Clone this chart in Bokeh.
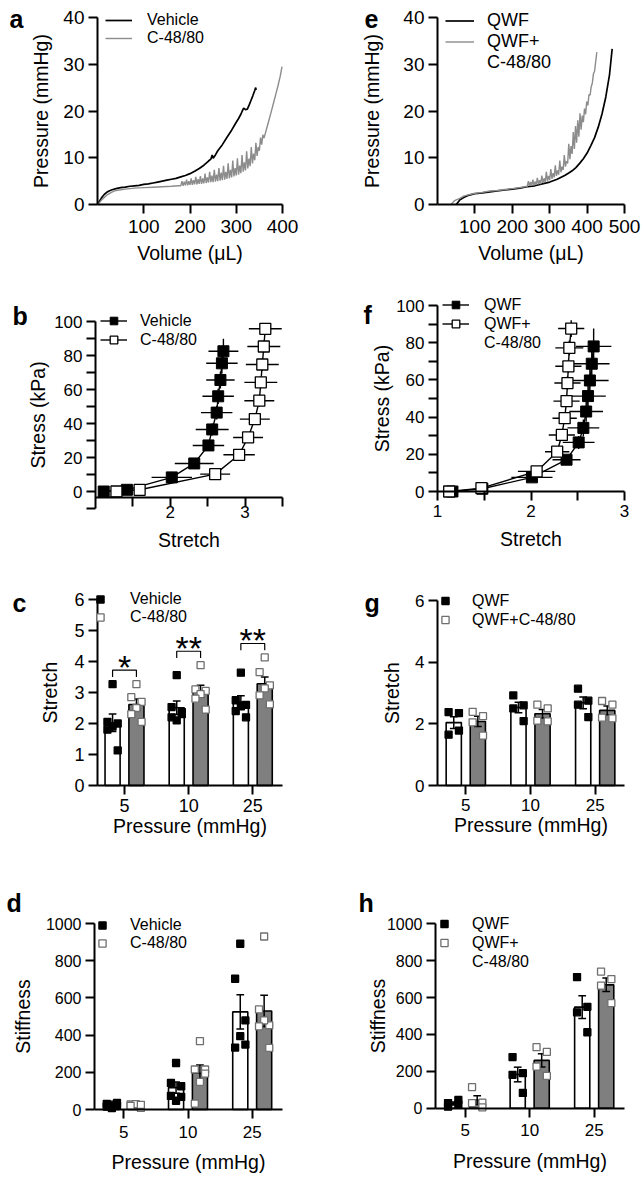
import numpy as np
from bokeh.plotting import figure
from bokeh.models import Range1d, FixedTicker, Legend, LegendItem, Label
from bokeh.layouts import column, row
from bokeh.embed import file_html
from bokeh.resources import INLINE
from bokeh.core.properties import value

FONT = "Liberation Sans"
GREY_LINE = "#8c8c8c"
GREY_BAR = "#7f7f7f"
OPEN_EDGE = "#6f6f6f"

# ---------------- data ----------------
# a: pressure-volume traces
A_VEH_VOL = [0, 5, 10, 15, 20, 25, 30, 40, 50, 60, 70, 80, 90, 100, 110, 120, 130, 140, 150, 160,
             170, 180, 190, 200, 210, 220, 230, 240, 245, 248, 250, 255, 260, 270, 280, 290, 300,
             305, 310, 313, 316, 320, 324, 328, 332, 336, 340, 342, 343]
A_VEH_P = [0, 0.8, 1.6, 2.2, 2.6, 2.9, 3.1, 3.4, 3.6, 3.7, 3.9, 4.0, 4.1, 4.3, 4.4, 4.6, 4.8, 5.0, 5.2, 5.4,
           5.6, 5.9, 6.2, 6.6, 7.1, 7.7, 8.4, 9.3, 9.7, 10.6, 9.9, 10.6, 11.5, 12.8, 14.4, 15.9, 17.6,
           18.4, 19.3, 20.0, 20.6, 20.3, 20.4, 21.3, 22.3, 23.3, 24.4, 25.0, 24.5]
A_C48_VOL = [0, 5, 10, 20, 30, 40, 60, 80, 100, 120, 140, 160, 175,
             180, 182.5, 185, 187.5, 190, 192.5, 195, 197.5, 200, 202.5, 205, 207.5, 210, 212.5, 215,
             217.5, 220, 222.5, 225, 227.5, 230, 232.5, 235, 237.5, 240, 242.5, 245, 247.5, 250, 252.5,
             255, 257.5, 260, 262.5, 265, 267.5, 270, 272.5, 275, 277.5, 280, 282.5, 285, 287.5, 290,
             292.5, 295, 297.5, 300, 302.5, 305, 307.5, 310, 312.5, 315, 317.5, 320, 322.5, 325, 327.5,
             330, 332.5, 335, 337.5, 340, 342.5, 345, 347.5, 350, 352.5, 355, 357.5,
             360, 365, 370, 375, 380, 385, 390, 395, 399]
A_C48_P = [0, 0.5, 1.1, 2.0, 2.6, 3.0, 3.3, 3.5, 3.6, 3.7, 3.8, 3.9, 4.0,
           4.0, 5.0, 4.0, 4.9, 4.1, 5.3, 4.1, 5.0, 4.2, 5.6, 4.2, 5.2, 4.3, 5.9, 4.3,
           5.4, 4.4, 6.1, 4.4, 5.6, 4.5, 6.6, 4.6, 5.8, 4.7, 7.0, 4.8, 6.2, 4.8, 7.4,
           4.9, 6.4, 5.0, 7.8, 5.1, 6.8, 5.2, 8.3, 5.3, 7.0, 5.5, 8.8, 5.6, 7.4, 5.8,
           9.4, 6.0, 7.8, 6.2, 9.9, 6.4, 8.3, 6.7, 10.6, 7.0, 9.0, 7.3, 11.4, 7.7, 9.8,
           8.2, 12.3, 8.8, 10.9, 9.5, 13.2, 10.4, 12.3, 11.5, 14.3, 12.8, 14.9,
           14.2, 16.0, 17.8, 19.6, 21.5, 23.4, 25.3, 27.4, 29.5]

# e: pressure-volume traces
E_QWF_VOL = [50, 55, 60, 70, 80, 90, 100, 120, 140, 160, 180, 200, 220, 240, 260, 280, 300, 320, 340,
             350, 360, 370, 380, 390, 400, 410, 420, 430, 440, 450, 460, 467]
E_QWF_P = [0, 0.5, 1.0, 1.5, 1.9, 2.1, 2.3, 2.5, 2.7, 2.9, 3.1, 3.3, 3.5, 3.8, 4.0, 4.4, 4.8, 5.4, 6.2,
           6.7, 7.2, 7.9, 8.8, 9.8, 11.0, 12.6, 14.3, 16.6, 19.4, 23.0, 27.8, 33.3]
E_QWFC_VOL = [35, 40, 45, 50, 60, 70, 80, 100, 120, 140, 160, 180, 200, 220,
              240, 243, 246, 249, 252, 255, 258, 261, 264, 267, 270, 273, 276, 279, 282, 285, 288,
              291, 294, 297, 300, 303, 306, 309, 312, 315, 318, 321, 324, 327, 330, 333, 336, 339,
              342, 345, 348, 351, 354, 357, 360, 363, 366, 369, 372, 375, 378, 381, 384, 387, 390,
              393, 396, 399, 402, 405, 408, 411, 414, 417, 420, 423, 426]
E_QWFC_P = [0, 0.3, 0.8, 1.0, 1.3, 1.8, 2.0, 2.4, 2.6, 2.9, 3.0, 3.2, 3.4, 3.6,
            3.9, 5.0, 4.0, 4.8, 4.0, 5.3, 4.1, 4.9, 4.2, 5.7, 4.3, 5.2, 4.4, 6.2, 4.6, 5.6, 4.8,
            7.0, 5.0, 6.1, 5.2, 7.6, 5.5, 6.7, 5.8, 8.4, 6.1, 7.3, 6.4, 9.4, 6.9, 8.1, 7.4, 10.6,
            8.1, 9.3, 8.8, 13.0, 9.7, 12.5, 10.8, 15.5, 11.9, 16.8, 13.2, 18.0, 14.5, 19.5, 16.0, 19.0, 17.6,
            20.5, 19.3, 22.0, 21.2, 23.5, 23.4, 25.2, 26.0, 28.0, 28.5, 30.6, 32.6]

# b: stress-stretch (mean +/- SEM)
B_VEH_STRETCH = [1.11, 1.42, 2.02, 2.32, 2.51, 2.56, 2.62, 2.64, 2.67, 2.69, 2.71]
B_VEH_STRETCH_SEM = [0.02, 0.05, 0.27, 0.26, 0.21, 0.22, 0.21, 0.21, 0.19, 0.21, 0.2]
B_VEH_STRESS = [0.0, 1.0, 8.3, 16.5, 27.1, 36.5, 46.4, 56.0, 65.6, 75.4, 82.5]
B_VEH_STRESS_SEM = [0.1, 0.3, 1.5, 2.5, 3.0, 3.5, 4.0, 4.5, 5.0, 6.0, 7.3]
B_C48_STRETCH = [1.28, 1.59, 2.6, 2.92, 3.04, 3.13, 3.19, 3.21, 3.23, 3.25, 3.27]
B_C48_STRETCH_SEM = [0.02, 0.05, 0.2, 0.21, 0.2, 0.2, 0.2, 0.22, 0.22, 0.22, 0.22]
B_C48_STRESS = [0.0, 1.0, 10.2, 21.6, 31.8, 42.6, 53.4, 64.2, 74.7, 85.3, 95.7]
B_C48_STRESS_SEM = [0.1, 0.3, 1.5, 2.5, 3.0, 3.5, 3.5, 3.5, 3.5, 3.5, 3.3]

# f: stress-stretch (mean +/- SEM)
F_QWF_STRETCH = [1.16, 1.48, 2.01, 2.38, 2.51, 2.56, 2.59, 2.61, 2.63, 2.65, 2.67]
F_QWF_STRETCH_SEM = [0.02, 0.05, 0.22, 0.15, 0.17, 0.17, 0.18, 0.19, 0.2, 0.19, 0.19]
F_QWF_STRESS = [0.0, 1.5, 7.6, 17.1, 26.4, 34.2, 43.0, 51.3, 59.7, 68.7, 78.0]
F_QWF_STRESS_SEM = [0.1, 0.3, 1.5, 2.5, 3.5, 4.5, 5.5, 6.5, 7.5, 8.5, 9.6]
F_QWFC_STRETCH = [1.125, 1.47, 2.06, 2.28, 2.33, 2.36, 2.38, 2.39, 2.40, 2.41, 2.43]
F_QWFC_STRETCH_SEM = [0.02, 0.05, 0.2, 0.13, 0.14, 0.13, 0.14, 0.14, 0.14, 0.15, 0.14]
F_QWFC_STRESS = [0.0, 1.8, 10.8, 21.4, 30.4, 39.4, 48.6, 58.3, 67.3, 77.2, 87.6]
F_QWFC_STRESS_SEM = [0.1, 0.3, 1.5, 2.0, 2.5, 2.5, 3.0, 3.5, 3.5, 4.0, 4.5]

# c, g, d, h: individual animals at each pressure
PRESSURES = ["5", "10", "25"]
C_VEH = [[3.27, 2.05, 2.0, 1.9, 1.8, 1.13], [3.56, 2.53, 2.37, 2.1, 2.2, 2.3], [3.64, 2.75, 2.6, 2.55, 2.4, 2.2]]
C_C48 = [[3.27, 2.85, 2.7, 2.5, 2.3, 2.05], [3.88, 3.1, 3.05, 2.95, 2.8, 2.45], [4.13, 3.66, 3.23, 3.13, 2.91, 2.62]]
C_SIG = ["*", "**", "**"]
G_QWF = [[2.38, 2.35, 1.65, 1.78], [2.92, 2.6, 2.5, 2.09], [3.14, 2.75, 2.62, 2.22]]
G_QWFC = [[2.39, 2.25, 2.05, 1.62], [2.62, 2.5, 2.1, 2.08], [2.74, 2.62, 2.2, 2.18]]
D_VEH = [[8, 15, 20, 26, 30, 35], [250, 143, 125, 47, 73, 68], [891, 703, 479, 394, 333, 349]]
D_C48 = [[23, 27, 9, 29, 20, 25], [368, 215, 215, 148, 32, 193], [930, 538, 453, 479, 447, 331]]
H_QWF = [[8, 20, 28, 45], [277, 190, 181, 83], [711, 550, 520, 412]]
H_QWFC = [[114, 30, 28, 5], [331, 305, 226, 175], [741, 700, 665, 570]]


# ---------------- helpers ----------------
class Panel:
    """Figure whose frame is the whole canvas; axes are drawn at fixed data locations."""

    def __init__(self, W, H, xspec, yspec):
        xa, pxa, xb, pxb = xspec
        ya, pya, yb, pyb = yspec
        self.kx = (pxb - pxa) / (xb - xa)
        self.ky = (pya - pyb) / (yb - ya)
        self.xa, self.pxa, self.ya, self.pya = xa, pxa, ya, pya
        xr = (self.x(0), self.x(W))
        yr = (self.y(H), self.y(0))
        p = figure(width=W, height=H, x_range=Range1d(*xr), y_range=Range1d(*yr),
                   output_backend="svg", toolbar_location=None,
                   min_border_left=0, min_border_right=0, min_border_top=0, min_border_bottom=0)
        p.xgrid.visible = False
        p.ygrid.visible = False
        p.outline_line_color = None
        p.background_fill_color = "white"
        p.border_fill_color = "white"
        self.p = p
        self.W, self.H = W, H

    def x(self, px):
        return self.xa + (px - self.pxa) / self.kx

    def y(self, py):
        return self.ya + (self.pya - py) / self.ky


def style_axis(ax, label, ticks, minor=(), overrides=None, lab_off=4, title_off=6,
               bounds=None, loc=None, tick_font="17px"):
    ax.axis_label = label
    ax.ticker = FixedTicker(ticks=list(ticks), minor_ticks=list(minor))
    if overrides:
        ax.major_label_overrides = overrides
    if bounds is not None:
        ax.bounds = bounds
    if loc is not None:
        ax.fixed_location = loc
    ax.axis_line_width = 2
    ax.axis_line_color = "black"
    ax.major_tick_line_width = 2
    ax.major_tick_line_color = "black"
    ax.minor_tick_line_width = 2
    ax.minor_tick_line_color = "black"
    ax.major_tick_in = 0
    ax.major_tick_out = 9
    ax.minor_tick_in = 0
    ax.minor_tick_out = 9
    ax.major_label_text_font = FONT
    ax.major_label_text_font_size = tick_font
    ax.major_label_text_color = "black"
    ax.major_label_standoff = lab_off
    ax.axis_label_text_font = FONT
    ax.axis_label_text_font_size = "19.5px"
    ax.axis_label_text_font_style = "normal"
    ax.axis_label_text_color = "black"
    ax.axis_label_standoff = title_off


def letter(p, t, x, y):
    p.add_layout(Label(x=x, y=y, x_units="canvas", y_units="canvas", text=t,
                       text_font=FONT, text_font_style="bold", text_font_size="25px",
                       text_baseline="alphabetic", text_align="left", text_color="black"))


def legend(P, items, left_px, top_px, row_h, glyph_w, standoff, font="16px"):
    n = len(items)
    vy = P.H - (top_px + n * row_h)
    lg = Legend(items=items, location=(left_px, vy), orientation="vertical",
                padding=0, spacing=0, margin=0,
                border_line_color=None, background_fill_alpha=0.0,
                label_text_font=FONT, label_text_font_size=font, label_text_color="black",
                label_height=row_h, glyph_height=row_h, glyph_width=glyph_w,
                label_standoff=standoff)
    P.p.add_layout(lg)


def curve_panel(p, x1, y1, x2, y2, grey_w=1.4):
    r1 = p.line(x1, y1, line_color="black", line_width=1.7)
    r2 = p.line(x2, y2, line_color=GREY_LINE, line_width=grey_w)
    return r1, r2


def stress_panel(p, s1, s1e, t1, t1e, s2, s2e, t2, t2e):
    for s, se, t, te in ((s1, s1e, t1, t1e), (s2, s2e, t2, t2e)):
        s = np.array(s); se = np.array(se); t = np.array(t); te = np.array(te)
        p.segment(x0=s - se, y0=t, x1=s + se, y1=t, line_color="black", line_width=1.4)
        p.segment(x0=s, y0=t - te, x1=s, y1=t + te, line_color="black", line_width=1.4)
    l1 = p.line(s1, t1, line_color="black", line_width=1.4)
    l2 = p.line(s2, t2, line_color="black", line_width=1.4)
    m1 = p.scatter(s1, t1, marker="square", size=11, fill_color="black", line_color="black")
    m2 = p.scatter(s2, t2, marker="square", size=11, fill_color="white", line_color="black",
                   line_width=1.3)
    return [l1, m1], [l2, m2]


OFF = 0.186
BW = 0.235
CAP = 0.06
JIT = {6: [0.0, -0.08, 0.08, 0.0, -0.08, 0.08], 4: [-0.08, 0.08, -0.08, 0.08]}


def bar_panel(p, ga, gb):
    cats = np.arange(len(PRESSURES))
    stats = []
    for groups, off, fill in ((ga, -OFF, "white"), (gb, OFF, GREY_BAR)):
        m = np.array([np.mean(g) for g in groups])
        s = np.array([np.std(g, ddof=1) / np.sqrt(len(g)) for g in groups])
        x = cats + off
        p.vbar(x=x, top=m, bottom=0, width=BW, fill_color=fill, line_color="black", line_width=1.6)
        stats.append((x, m, s))
    for x, m, s in stats:
        p.segment(x0=x, y0=m - s, x1=x, y1=m + s, line_color="black", line_width=1.5)
        p.segment(x0=x - CAP, y0=m + s, x1=x + CAP, y1=m + s, line_color="black", line_width=1.5)
        p.segment(x0=x - CAP, y0=m - s, x1=x + CAP, y1=m - s, line_color="black", line_width=1.5)
    rends = []
    for groups, off, fc, lc in ((ga, -OFF, "black", "black"), (gb, OFF, "white", OPEN_EDGE)):
        xs, ys = [], []
        for i, g in enumerate(groups):
            for j, v in enumerate(g):
                xs.append(i + off + JIT[len(g)][j])
                ys.append(v)
        rends.append(p.scatter(xs, ys, marker="square", size=7, fill_color=fc, line_color=lc,
                               line_width=1.3))
    return rends


CAT_TICKS = [0, 1, 2]
CAT_LABELS = dict(zip(CAT_TICKS, PRESSURES))

# ---------------- row 1: a, e ----------------
A = Panel(322, 268, (0, 97, 400, 282), (0, 204, 40, 17))
pa = A.p
ra1, ra2 = curve_panel(pa, A_VEH_VOL, A_VEH_P, A_C48_VOL, A_C48_P)
style_axis(pa.xaxis[0], "Volume (μL)", [100, 200, 300, 400], lab_off=6, title_off=6,
           bounds=(0, 400), loc=0, tick_font="19px")
style_axis(pa.yaxis[0], "Pressure (mmHg)", [0, 10, 20, 30, 40], lab_off=4, title_off=8,
           bounds=(0, 40), loc=0, tick_font="19px")
legend(A, [LegendItem(label="Vehicle", renderers=[ra1]), LegendItem(label="C-48/80", renderers=[ra2])],
       105, 11, 18, 27, 15)
letter(pa, "a", 9, 18)

E = Panel(322, 268, (0, 115, 500, 302), (0, 204, 40, 17))
pe = E.p
re1, re2 = curve_panel(pe, E_QWF_VOL, E_QWF_P, E_QWFC_VOL, E_QWFC_P)
style_axis(pe.xaxis[0], "Volume (μL)", [100, 200, 300, 400, 500], lab_off=6, title_off=6,
           bounds=(0, 500), loc=0, tick_font="19px")
style_axis(pe.yaxis[0], "Pressure (mmHg)", [0, 10, 20, 30, 40], lab_off=4, title_off=17,
           bounds=(0, 40), loc=0, tick_font="19px")
legend(E, [LegendItem(label="QWF", renderers=[re1]), LegendItem(label="QWF+", renderers=[re2]),
           LegendItem(label="C-48/80", renderers=[])], 123, 10, 21, 29, 13, font="18px")
letter(pe, "e", 42, 18)

# ---------------- row 2: b, f ----------------
B = Panel(322, 292, (1, 95, 3.5, 282), (0, 223, 100, 53))
pb = B.p
rb1, rb2 = stress_panel(pb, B_VEH_STRETCH, B_VEH_STRETCH_SEM, B_VEH_STRESS, B_VEH_STRESS_SEM,
                        B_C48_STRETCH, B_C48_STRETCH_SEM, B_C48_STRESS, B_C48_STRESS_SEM)
style_axis(pb.xaxis[0], "Stretch", [2, 3], minor=[1.5, 2.5, 3.5], lab_off=0, title_off=7,
           bounds=(1, 3.5), loc=-3.5)
style_axis(pb.yaxis[0], "Stress (kPa)", [0, 20, 40, 60, 80, 100], minor=[-10, 10, 30, 50, 70, 90],
           lab_off=4, title_off=2, bounds=(-10, 100), loc=1)
legend(B, [LegendItem(label="Vehicle", renderers=rb1), LegendItem(label="C-48/80", renderers=rb2)],
       100, 43, 19, 27, 13)
letter(pb, "b", 12, 47)

F = Panel(322, 292, (1, 115, 3, 302), (0, 223, 100, 37))
pf = F.p
rf1, rf2 = stress_panel(pf, F_QWF_STRETCH, F_QWF_STRETCH_SEM, F_QWF_STRESS, F_QWF_STRESS_SEM,
                        F_QWFC_STRETCH, F_QWFC_STRETCH_SEM, F_QWFC_STRESS, F_QWFC_STRESS_SEM)
style_axis(pf.xaxis[0], "Stretch", [1, 2, 3], minor=[1.5, 2.5], lab_off=4, title_off=8,
           bounds=(1, 3), loc=0)
style_axis(pf.yaxis[0], "Stress (kPa)", [0, 20, 40, 60, 80, 100], minor=[10, 30, 50, 70, 90],
           lab_off=4, title_off=0, bounds=(0, 100), loc=1)
legend(F, [LegendItem(label="QWF", renderers=rf1), LegendItem(label="QWF+", renderers=rf2),
           LegendItem(label="C-48/80", renderers=[])], 120, 27, 19, 27, 15)
letter(pf, "f", 41, 46)

# ---------------- row 3: c, g ----------------
C = Panel(322, 285, (0, 124, 2, 252.3), (0, 225, 6, 39))
pc = C.p
rc = bar_panel(pc, C_VEH, C_C48)
tops = [max(max(a), max(b)) + 0.45 for a, b in zip(C_VEH, C_C48)]
bx, by = [], []
for i, t in enumerate(tops):
    bx.append([i - OFF, i - OFF, i + OFF, i + OFF])
    by.append([t - 0.22, t, t, t - 0.22])
pc.multi_line(bx, by, line_color="black", line_width=1.2)
pc.text(x=CAT_TICKS, y=[t + 0.1 for t in tops], text=C_SIG, text_font=value(FONT),
        text_font_size="34px", text_align="center", text_baseline="middle", text_color="black")
style_axis(pc.xaxis[0], "Pressure (mmHg)", CAT_TICKS, overrides=CAT_LABELS, lab_off=4, title_off=0,
           bounds=(C.x(97), C.x(282)), loc=0, tick_font="18px")
style_axis(pc.yaxis[0], "Stretch", [0, 1, 2, 3, 4, 5, 6], lab_off=4, title_off=10,
           bounds=(0, 6), loc=C.x(97), tick_font="18px")
legend(C, [LegendItem(label="Vehicle", renderers=[rc[0]]), LegendItem(label="C-48/80", renderers=[rc[1]])],
       91, 30, 18, 18, 21)
letter(pc, "c", 12, 42)

G = Panel(322, 285, (0, 143.3, 2, 272.7), (0, 225, 6, 40))
pg = G.p
rg = bar_panel(pg, G_QWF, G_QWFC)
style_axis(pg.xaxis[0], "Pressure (mmHg)", CAT_TICKS, overrides=CAT_LABELS, lab_off=4, title_off=0,
           bounds=(G.x(115), G.x(302)), loc=0)
style_axis(pg.yaxis[0], "Stretch", [0, 2, 4, 6], lab_off=4, title_off=9,
           bounds=(0, 6), loc=G.x(115))
legend(G, [LegendItem(label="QWF", renderers=[rg[0]]), LegendItem(label="QWF+C-48/80", renderers=[rg[1]])],
       114, 31, 19, 18, 18)
letter(pg, "g", 42, 42)

# ---------------- row 4: d, h ----------------
D = Panel(322, 334, (0, 123.3, 2, 251.7), (0, 264, 1000, 78))
pd_ = D.p
rd = bar_panel(pd_, D_VEH, D_C48)
style_axis(pd_.xaxis[0], "Pressure (mmHg)", CAT_TICKS, overrides=CAT_LABELS, lab_off=7, title_off=10,
           bounds=(D.x(94), D.x(282)), loc=0)
style_axis(pd_.yaxis[0], "Stiffness", [0, 200, 400, 600, 800, 1000], lab_off=4, title_off=9,
           bounds=(0, 1000), loc=D.x(94), tick_font="16px")
legend(D, [LegendItem(label="Vehicle", renderers=[rd[0]]), LegendItem(label="C-48/80", renderers=[rd[1]])],
       93, 71, 18, 18, 19)
letter(pd_, "d", 6, 57)

Hh = Panel(322, 334, (0, 142.7, 2, 271.7), (0, 262.7, 1000, 78.3))
ph = Hh.p
rh = bar_panel(ph, H_QWF, H_QWFC)
style_axis(ph.xaxis[0], "Pressure (mmHg)", CAT_TICKS, overrides=CAT_LABELS, lab_off=7, title_off=10,
           bounds=(Hh.x(113), Hh.x(302)), loc=0)
style_axis(ph.yaxis[0], "Stiffness", [0, 200, 400, 600, 800, 1000], lab_off=4, title_off=-5,
           bounds=(0, 1000), loc=Hh.x(113), tick_font="16px")
legend(Hh, [LegendItem(label="QWF", renderers=[rh[0]]), LegendItem(label="QWF+", renderers=[rh[1]]),
            LegendItem(label="C-48/80", renderers=[])], 113, 69, 19, 18, 19)
letter(ph, "h", 36, 57)

layout = column(row(pa, pe), row(pb, pf), row(pc, pg), row(pd_, ph))
open("out.html", "w").write(file_html(layout, INLINE, title="Bladder mechanics"))
